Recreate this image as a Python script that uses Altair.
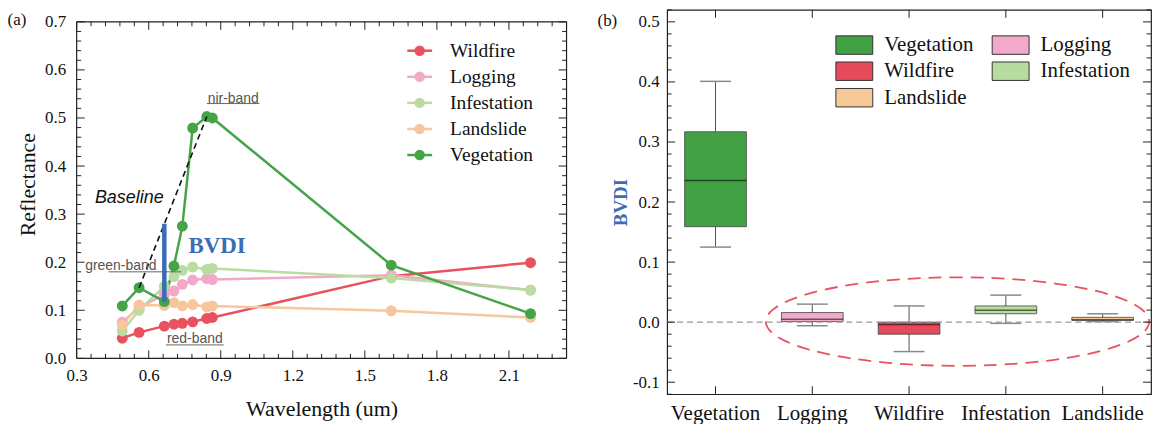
import altair as alt
import pandas as pd

SERIF = "Liberation Serif"
SANS = "Liberation Sans"
FRAME = "#222222"

# ---------------- Panel (a): spectral reflectance ----------------
wavelengths = [0.49, 0.56, 0.665, 0.705, 0.74, 0.783, 0.842, 0.865, 1.61, 2.19]
wildfire    = [0.042, 0.054, 0.067, 0.071, 0.073, 0.076, 0.083, 0.085, 0.171, 0.199]
logging     = [0.075, 0.105, 0.133, 0.140, 0.154, 0.163, 0.166, 0.164, 0.173, 0.142]
infestation = [0.057, 0.100, 0.150, 0.170, 0.183, 0.190, 0.185, 0.187, 0.167, 0.142]
landslide   = [0.069, 0.111, 0.110, 0.116, 0.109, 0.112, 0.107, 0.109, 0.099, 0.085]
vegetation  = [0.109, 0.147, 0.118, 0.192, 0.275, 0.479, 0.503, 0.500, 0.194, 0.093]

classes_a = ["Wildfire", "Logging", "Infestation", "Landslide", "Vegetation"]
colors_a = ["#E8525F", "#F3A8C8", "#B9DCA2", "#F6C79C", "#46A448"]
series_a = [wildfire, logging, infestation, landslide, vegetation]

x_major_a = [0.3, 0.6, 0.9, 1.2, 1.5, 1.8, 2.1]
x_minor_a = [round(0.3 + 0.06 * i, 2) for i in range(1, 34) if i % 5 != 0]
y_major_a = [0.0, 0.1, 0.2, 0.3, 0.4, 0.5, 0.6, 0.7]
y_minor_a = [round(0.02 * i, 2) for i in range(1, 35) if i % 5 != 0]

# annotations of panel (a)
baseline_x = [0.56, 0.842]
baseline_y = [0.147, 0.503]
bvdi_bar_x = [0.665]
bvdi_bar_y1 = [0.118]
bvdi_bar_y2 = [0.28]
band_labels = ["green-band", "red-band", "nir-band"]
band_label_x = [0.484, 0.792, 0.952]
band_label_y = [0.192, 0.040, 0.540]
underline_x1 = [0.433, 0.672, 0.842]
underline_x2 = [0.735, 0.912, 1.061]
underline_y = [0.180, 0.028, 0.530]

# ---------------- Panel (b): BVDI box plot ----------------
box_cats = ["Vegetation", "Logging", "Wildfire", "Infestation", "Landslide"]
box_colors = ["#42A045", "#F2A9CA", "#E54B5B", "#B8DBA0", "#F5C898"]
box_low  = [0.125, -0.006, -0.049, -0.002, 0.001]
box_q1   = [0.159, 0.001, -0.020, 0.014, 0.003]
box_med  = [0.236, 0.005, -0.004, 0.020, 0.004]
box_q3   = [0.317, 0.016, 0.000, 0.027, 0.008]
box_high = [0.401, 0.030, 0.027, 0.045, 0.014]

y_major_b = [-0.1, 0.0, 0.1, 0.2, 0.3, 0.4, 0.5]
y_minor_b = [round(-0.12 + 0.02 * i, 2) for i in range(0, 33) if i % 5 != 1]

# ---------------- geometry ----------------
LW, LH_FRAME, LH = 492, 338, 350          # panel (a): frame height and plot height
RW, RH = 486, 386
X_MIN_A, X_MAX_A = 0.3, 2.34
Y_TOP_A = 0.7
Y_MAX_A = Y_TOP_A * LH / LH_FRAME          # extra room above the frame of panel (a)
UPP_A = Y_TOP_A / LH_FRAME                 # data units per pixel in panel (a)

# layout of panel (a)'s legend (pixels from the plot's top-left corner)
LEG_SYM_X0, LEG_SYM_X1, LEG_TXT_X = 332, 357, 375
LEG_ROW0, LEG_DY = 41, 26.2


def px_to_xa(p):
    return X_MIN_A + p * (X_MAX_A - X_MIN_A) / LW


def px_to_ya(p):
    return Y_MAX_A * (1 - p / LH)


spec_rows = []
for cls, vals in zip(classes_a, series_a):
    for wl, r in zip(wavelengths, vals):
        spec_rows.append({"cls": cls, "wl": wl, "r": r})
spec_df = pd.DataFrame(spec_rows)

xs_a = alt.Scale(domain=[X_MIN_A, X_MAX_A], nice=False, zero=False)
ys_a = alt.Scale(domain=[0.0, Y_MAX_A], nice=False, zero=False)
cs_a = alt.Scale(domain=classes_a, range=colors_a)

x_axis_a = alt.Axis(values=x_major_a, format=".1f", title="Wavelength (um)",
                    labelPadding=9, titlePadding=15, labelFlush=False, labelOverlap=False)
y_axis_a = alt.Axis(values=y_major_a, format=".1f", title="Reflectance",
                    labelPadding=11, titlePadding=5, labelFlush=False, labelOverlap=False)


def XA(field):
    return alt.X(field, scale=xs_a, axis=x_axis_a)


def YA(field):
    return alt.Y(field, scale=ys_a, axis=y_axis_a)


lines_a = alt.Chart(spec_df).mark_line(strokeWidth=2.5).encode(
    x=XA("wl:Q"), y=YA("r:Q"),
    stroke=alt.Stroke("cls:N", scale=cs_a, legend=None),
)
points_a = alt.Chart(spec_df).mark_point(filled=True, size=120, opacity=1).encode(
    x=XA("wl:Q"), y=YA("r:Q"),
    color=alt.Color("cls:N", scale=cs_a, legend=None),
)

# legend of panel (a): line + dot + label for each class
leg_df = pd.DataFrame({
    "cls": classes_a,
    "x0": px_to_xa(LEG_SYM_X0),
    "x1": px_to_xa(LEG_SYM_X1),
    "xc": px_to_xa((LEG_SYM_X0 + LEG_SYM_X1) / 2),
    "xt": px_to_xa(LEG_TXT_X),
    "y": [px_to_ya(LEG_ROW0 + i * LEG_DY) for i in range(len(classes_a))],
})
leg_lines = alt.Chart(leg_df).mark_rule(strokeWidth=2.5).encode(
    x=XA("x0:Q"), x2="x1:Q", y=YA("y:Q"),
    color=alt.Color("cls:N", scale=cs_a, legend=None))
leg_dots = alt.Chart(leg_df).mark_point(filled=True, size=110, opacity=1).encode(
    x=XA("xc:Q"), y=YA("y:Q"),
    color=alt.Color("cls:N", scale=cs_a, legend=None))
leg_text = alt.Chart(leg_df).mark_text(align="left", baseline="middle", font=SERIF,
                                       fontSize=19.5, color="#111").encode(
    x=XA("xt:Q"), y=YA("y:Q"), text="cls:N")

base_df = pd.DataFrame({"x": [baseline_x[0]], "y": [baseline_y[0]],
                        "x2": [baseline_x[1]], "y2": [baseline_y[1]]})
baseline = alt.Chart(base_df).mark_rule(color="#111", strokeWidth=1.6, strokeDash=[6, 4]).encode(
    x=XA("x:Q"), y=YA("y:Q"), x2="x2:Q", y2="y2:Q")

bar_df = pd.DataFrame({"x": bvdi_bar_x, "y": bvdi_bar_y1, "y2": bvdi_bar_y2})
bvdi_bar = alt.Chart(bar_df).mark_rule(color="#3A6DB5", strokeWidth=4.5).encode(
    x=XA("x:Q"), y=YA("y:Q"), y2="y2:Q")

txt_df = pd.DataFrame({"t": ["Baseline"], "x": [0.519], "y": [0.333]})
baseline_txt = alt.Chart(txt_df).mark_text(font=SANS, fontSize=18, fontStyle="italic", color="#111").encode(
    x=XA("x:Q"), y=YA("y:Q"), text="t:N")

bvdi_df = pd.DataFrame({"t": ["BVDI"], "x": [0.885], "y": [0.234]})
bvdi_txt = alt.Chart(bvdi_df).mark_text(font=SERIF, fontSize=23, fontWeight="bold", color="#3A6DB5").encode(
    x=XA("x:Q"), y=YA("y:Q"), text="t:N")

band_df = pd.DataFrame({"t": band_labels, "x": band_label_x, "y": band_label_y})
band_txt = alt.Chart(band_df).mark_text(font=SANS, fontSize=14, color="#555").encode(
    x=XA("x:Q"), y=YA("y:Q"), text="t:N")

ul_df = pd.DataFrame({"x": underline_x1, "x2": underline_x2, "y": underline_y})
underlines = alt.Chart(ul_df).mark_rule(color="#666", strokeWidth=1).encode(
    x=XA("x:Q"), x2="x2:Q", y=YA("y:Q"))

# frame of panel (a)
frame_h = alt.Chart(pd.DataFrame({"y": [0.0, Y_TOP_A]})).mark_rule(color=FRAME, strokeWidth=1.2).encode(
    y=YA("y:Q"))
frame_v = alt.Chart(pd.DataFrame({"x": [X_MIN_A, X_MAX_A], "y": [0.0, 0.0],
                                  "y2": [Y_TOP_A, Y_TOP_A]})).mark_rule(
    color=FRAME, strokeWidth=1.2).encode(x=XA("x:Q"), y=YA("y:Q"), y2="y2:Q")


# inward ticks of panel (a)
def xticks_a(values, length):
    df = pd.DataFrame({"v": values, "b0": 0.0, "b1": length * UPP_A,
                       "t0": Y_TOP_A, "t1": Y_TOP_A - length * UPP_A})
    bot = alt.Chart(df).mark_rule(color=FRAME, strokeWidth=1).encode(
        x=XA("v:Q"), y=YA("b0:Q"), y2="b1:Q")
    top = alt.Chart(df).mark_rule(color=FRAME, strokeWidth=1).encode(
        x=XA("v:Q"), y=YA("t0:Q"), y2="t1:Q")
    return [bot, top]


def yticks(values, length, ych, W):
    df = pd.DataFrame({"v": values})
    lef = alt.Chart(df).mark_rule(color=FRAME, strokeWidth=1).encode(
        y=ych("v:Q"), x=alt.value(0), x2=alt.value(length))
    rig = alt.Chart(df).mark_rule(color=FRAME, strokeWidth=1).encode(
        y=ych("v:Q"), x=alt.value(W), x2=alt.value(W - length))
    return [lef, rig]


tick_layers_a = (xticks_a(x_major_a, 8) + xticks_a(x_minor_a, 4.5)
                 + yticks(y_major_a, 8, YA, LW) + yticks(y_minor_a, 4.5, YA, LW))

label_a = alt.Chart(pd.DataFrame({"t": ["(a)"]})).mark_text(
    font=SERIF, fontSize=17, color="#111").encode(text="t:N", x=alt.value(-60), y=alt.value(10))

left = alt.layer(frame_h, frame_v, lines_a, points_a, baseline, bvdi_bar, baseline_txt, bvdi_txt,
                 band_txt, underlines, leg_lines, leg_dots, leg_text,
                 *tick_layers_a, label_a).properties(
    width=LW, height=LH, view=alt.ViewConfig(stroke="transparent"))

# ---------------- panel (b) ----------------
box_df = pd.DataFrame({"cat": box_cats, "low": box_low, "q1": box_q1, "med": box_med,
                       "q3": box_q3, "high": box_high})
box_df["key"] = ["b_" + c for c in box_cats]
box_keys = ["b_" + c for c in box_cats]

xs_b = alt.Scale(domain=box_cats, paddingInner=0, paddingOuter=0)
ys_b = alt.Scale(domain=[-0.12, 0.52], nice=False, zero=False)
cs_b = alt.Scale(domain=box_keys, range=box_colors)

x_axis_b = alt.Axis(title=None, labelAngle=0, labelFontSize=21, labelPadding=8)
y_axis_b = alt.Axis(values=y_major_b, format=".1f", title="BVDI", titleColor="#3A6DB5",
                    titleFontWeight="bold", titleFontSize=19, titlePadding=2,
                    labelPadding=8, labelFlush=False, labelOverlap=False,
                    labelExpr="replace(datum.label, '\u2212', '-')")


def XB(field):
    return alt.X(field, scale=xs_b, axis=x_axis_b, sort=box_cats)


def YB(field):
    return alt.Y(field, scale=ys_b, axis=y_axis_b)


whisk = alt.Chart(box_df).mark_rule(color="#555", strokeWidth=1).encode(
    x=XB("cat:N"), y=YB("low:Q"), y2="high:Q")
cap_lo = alt.Chart(box_df).mark_tick(color="#8a8a8a", size=31, thickness=1.5, opacity=1).encode(
    x=XB("cat:N"), y=YB("low:Q"))
cap_hi = alt.Chart(box_df).mark_tick(color="#8a8a8a", size=31, thickness=1.5, opacity=1).encode(
    x=XB("cat:N"), y=YB("high:Q"))

# the fill legend of panel (b) is placed in the coordinates of the whole figure
# (origin = top-left corner of panel (a)'s plot area)
legend_sym_b = "M -1.5 -0.75 H 1.5 V 0.75 H -1.5 Z"
boxes = alt.Chart(box_df).mark_bar(size=62, stroke="#444", strokeWidth=1, strokeOpacity=0.8).encode(
    x=XB("cat:N"), y=YB("q1:Q"), y2="q3:Q",
    fill=alt.Fill("key:N", scale=cs_b, sort=box_keys, legend=alt.Legend(
        title=None, orient="none", legendX=768, legendY=22, padding=0,
        direction="horizontal", columns=2,
        labelExpr="slice(datum.label, 2)",
        symbolType=legend_sym_b, symbolSize=610, symbolStrokeColor="#333",
        symbolStrokeWidth=1, symbolOpacity=1,
        labelFont=SERIF, labelFontSize=21, labelColor="#111", labelOffset=17,
        rowPadding=1.6, columnPadding=16)),
)

medians = alt.Chart(box_df).mark_tick(color="#000", size=62, thickness=1.5, opacity=0.55).encode(
    x=XB("cat:N"), y=YB("med:Q"))

zero_line = alt.Chart(pd.DataFrame({"z": [0.0]})).mark_rule(
    color="#999", strokeWidth=1.2, strokeDash=[6, 4]).encode(y=YB("z:Q"))

ellipse_path = "M -1 0 A 1 0.231 0 1 0 1 0 A 1 0.231 0 1 0 -1 0 Z"
ellipse = alt.Chart(pd.DataFrame({"cat": ["Wildfire"], "v": [0.001]})).mark_point(
    shape=ellipse_path, size=385 ** 2, filled=False, stroke="#E8525F", strokeWidth=1.8,
    strokeDash=[13, 8], xOffset=RW / 10, opacity=1).encode(x=XB("cat:N"), y=YB("v:Q"))

cat_df = pd.DataFrame({"cat": box_cats})
cat_tick_bot = alt.Chart(cat_df).mark_rule(color=FRAME, strokeWidth=1).encode(
    x=XB("cat:N"), y=alt.value(RH), y2=alt.value(RH - 8))
cat_tick_top = alt.Chart(cat_df).mark_rule(color=FRAME, strokeWidth=1).encode(
    x=XB("cat:N"), y=alt.value(0), y2=alt.value(8))
tick_layers_b = [cat_tick_bot, cat_tick_top] + yticks(y_major_b, 8, YB, RW) + yticks(y_minor_b, 4.5, YB, RW)

label_b = alt.Chart(pd.DataFrame({"t": ["(b)"]})).mark_text(
    font=SERIF, fontSize=17, color="#111").encode(text="t:N", x=alt.value(-60), y=alt.value(11))

right = alt.layer(whisk, cap_lo, cap_hi, boxes, medians, zero_line, ellipse,
                  *tick_layers_b, label_b).properties(
    width=RW, height=RH, view=alt.ViewConfig(stroke=FRAME, strokeWidth=1.2))

chart = alt.hconcat(left, right, spacing=28).properties(
    padding={"left": 7, "top": 7, "right": 3, "bottom": 0},
    background="white",
).configure_axis(
    grid=False, domain=False, ticks=False, tickSize=0,
    labelFont=SERIF, labelFontSize=17, labelColor="#111",
    titleFont=SERIF, titleFontSize=22, titleFontWeight="normal", titleColor="#111",
)

chart.save("out.html", embed_options={"renderer": "svg", "actions": False})
